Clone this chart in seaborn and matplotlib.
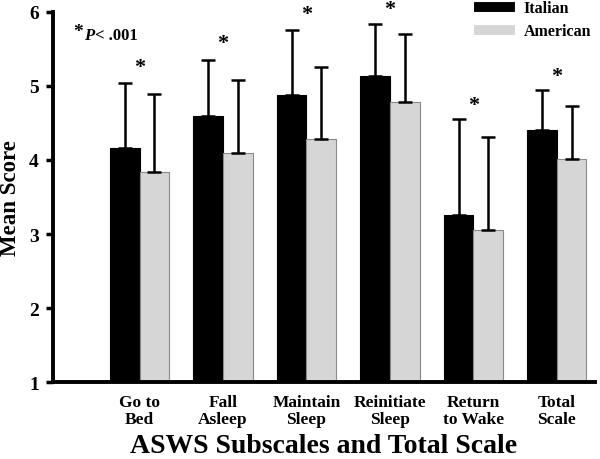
import numpy as np
import pandas as pd
import matplotlib
matplotlib.use('Agg')
import matplotlib.pyplot as plt
from matplotlib.font_manager import FontProperties
import seaborn as sns

# values
subscales = ['Go to\nBed', 'Fall\nAsleep', 'Maintain\nSleep', 'Reinitiate\nSleep', 'Return\nto Wake', 'Total\nScale']
italian = [4.16, 4.60, 4.88, 5.14, 3.26, 4.41]
italian_sd = [0.88, 0.75, 0.87, 0.70, 1.29, 0.54]
american = [3.84, 4.09, 4.29, 4.78, 3.05, 4.01]
american_sd = [1.05, 0.99, 0.96, 0.92, 1.26, 0.72]
star_y = [5.26, 5.58, 5.97, 6.04, 4.74, 5.14]

df = pd.DataFrame({
    'Subscale': subscales * 2,
    'Group': ['Italian'] * 6 + ['American'] * 6,
    'Mean': italian + american,
})

sns.set_style('white')
plt.rcParams['font.family'] = ['Liberation Serif', 'DejaVu Serif']
plt.rcParams['font.weight'] = 'bold'
for k in ['text.color', 'axes.labelcolor', 'xtick.color', 'ytick.color']:
    plt.rcParams[k] = 'black'

fig = plt.figure(figsize=(6, 4.6), dpi=100)
ax = fig.add_axes([0.088, 0.167, 0.904, 0.805])

sns.barplot(data=df, x='Subscale', y='Mean', hue='Group',
            palette=['black', '#d6d6d6'], width=0.71, ax=ax,
            linewidth=0.8, errorbar=None)

edge_cols = ['black', '#8a8a8a']
for cont, means, sds, ec in zip(ax.containers, [italian, american], [italian_sd, american_sd], edge_cols):
    for b in cont:
        b.set_edgecolor(ec)
    xs = [b.get_x() + b.get_width() / 2 for b in cont]
    ax.errorbar(xs, means, yerr=[np.zeros(len(sds)), sds], fmt='none',
                ecolor='black', elinewidth=1.8, capsize=4.7, capthick=1.8, zorder=3)

for i, y in enumerate(star_y):
    ax.text(i, y, '*', ha='center', va='center', fontsize=16, clip_on=False)

t1 = ax.text(-0.8, 5.73, '*', ha='left', va='center', fontsize=14, fontweight='bold')
t2 = ax.annotate('P', xy=(1, 0.5), xycoords=t1, xytext=(1, -2), textcoords='offset points',
                 ha='left', va='center', fontsize=12, fontweight='bold', fontstyle='italic')
ax.annotate('< .001', xy=(1, 0.5), xycoords=t2, xytext=(1, 0), textcoords='offset points',
            ha='left', va='center', fontsize=12, fontweight='bold')

ax.set_ylim(1, 6)
ax.set_xlim(-1.04, 5.46)
ax.set_yticks([1, 2, 3, 4, 5, 6])
ax.tick_params(axis='y', which='both', left=True, length=5, width=2.5, labelsize=14, pad=5)
ax.tick_params(axis='x', bottom=False, labelsize=12.5, pad=5)
for lab in ax.get_xticklabels() + ax.get_yticklabels():
    lab.set_fontweight('bold')
for lab in ax.get_xticklabels():
    lab.set_linespacing(1.1)

for s in ['top', 'right']:
    ax.spines[s].set_visible(False)
for s in ['left', 'bottom']:
    ax.spines[s].set_linewidth(2.8)
    ax.spines[s].set_color('black')

ax.set_ylabel('Mean Score', fontsize=16.5, fontweight='bold', labelpad=6)
ax.set_xlabel('ASWS Subscales and Total Scale', fontsize=20, fontweight='bold', labelpad=4)

legend_font = FontProperties(family='Liberation Serif', weight='bold', size=11.5)
handles, labels = ax.get_legend_handles_labels()
leg = ax.legend(handles, labels, loc='upper right', bbox_to_anchor=(0.985, 0.998),
                bbox_transform=fig.transFigure, frameon=False,
                handlelength=2.6, handleheight=0.63, handletextpad=0.55,
                labelspacing=0.45, borderpad=0.0, borderaxespad=0.0,
                prop=legend_font)
for txt in leg.get_texts():
    txt.set_fontproperties(legend_font)
    txt.set_color('black')

fig.savefig('out.png', dpi=100)
